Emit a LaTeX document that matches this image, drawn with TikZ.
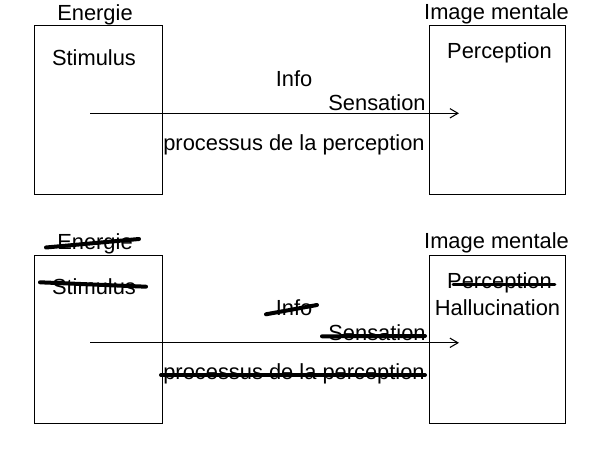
\documentclass[tikz,border=0pt]{standalone}
\usepackage{fontspec}
\setmainfont{Liberation Sans}
\usetikzlibrary{arrows.meta}
\tikzset{
  lbl/.style={anchor=base, inner sep=0pt, font=\fontsize{16.4}{19}\selectfont},
  boxr/.style={draw, line width=1.1pt, inner sep=0pt, anchor=north west},
  flow/.style={line width=0.8pt, -{Straight Barb[length=6pt,width=7pt]}},
  strike/.style={line width=3pt, line cap=round}
}
\begin{document}
\begin{tikzpicture}[x=0.75pt,y=-0.75pt]
\useasboundingbox (0,0) rectangle (600,450);
% ---------- top row ----------
\node[boxr, minimum width=128.5*0.75pt, minimum height=168.5*0.75pt] (lb1) at (33.5,25) {};
\node[boxr, minimum width=136.5*0.75pt, minimum height=169*0.75pt] (rb1) at (428.5,25) {};
\node[lbl] (en1) at (95,20) {Energie};
\node[lbl] (st1) at (94,65) {Stimulus};
\node[lbl] (im1) at (496.5,19) {Image mentale};
\node[lbl] (pe1) at (499.5,58.5) {Perception};
\node[lbl] (in1) at (294,86) {Info};
\node[lbl] (se1) at (377,110.5) {Sensation};
\node[lbl] (pr1) at (294,150) {processus de la perception};
\coordinate (a1s) at (90,113.3);
\coordinate (a1e) at (459,113.3);
\draw[flow] (a1s) -- (a1e);
% ---------- bottom row ----------
\node[boxr, minimum width=128.5*0.75pt, minimum height=168.5*0.75pt] (lb2) at (33.5,254.5) {};
\node[boxr, minimum width=136.5*0.75pt, minimum height=168.5*0.75pt] (rb2) at (428.5,254.5) {};
\node[lbl] (en2) at (95,249.5) {Energie};
\node[lbl] (st2) at (94,294.5) {Stimulus};
\node[lbl] (im2) at (496.5,248.5) {Image mentale};
\node[lbl] (pe2) at (499.5,288) {Perception};
\node[lbl] (ha2) at (497.5,315) {Hallucination};
\node[lbl] (in2) at (294,315.5) {Info};
\node[lbl] (se2) at (377,340) {Sensation};
\node[lbl] (pr2) at (294,379.5) {processus de la perception};
\coordinate (a2s) at (90,342.8);
\coordinate (a2e) at (459,342.8);
\draw[flow] (a2s) -- (a2e);
% ---------- strike-through marks ----------
\coordinate (s1a) at (46,247.5); \coordinate (s1b) at (139,239);
\coordinate (s2a) at (40,282.3); \coordinate (s2b) at (146,286.7);
\coordinate (s3a) at (266,314.3); \coordinate (s3b) at (317,305);
\coordinate (s4a) at (322,336.3); \coordinate (s4b) at (425,336);
\coordinate (s5a) at (161,375); \coordinate (s5b) at (425,375);
\coordinate (s6a) at (453,284.3); \coordinate (s6b) at (555,284.3);
\draw[strike] (s1a) -- (s1b);
\draw[strike] (s2a) -- (s2b);
\draw[strike] (s3a) -- (s3b);
\draw[strike] (s4a) -- (s4b);
\draw[strike] (s5a) -- (s5b);
\draw[line width=2pt, line cap=round] (s6a) -- (s6b);
\end{tikzpicture}
\end{document}
